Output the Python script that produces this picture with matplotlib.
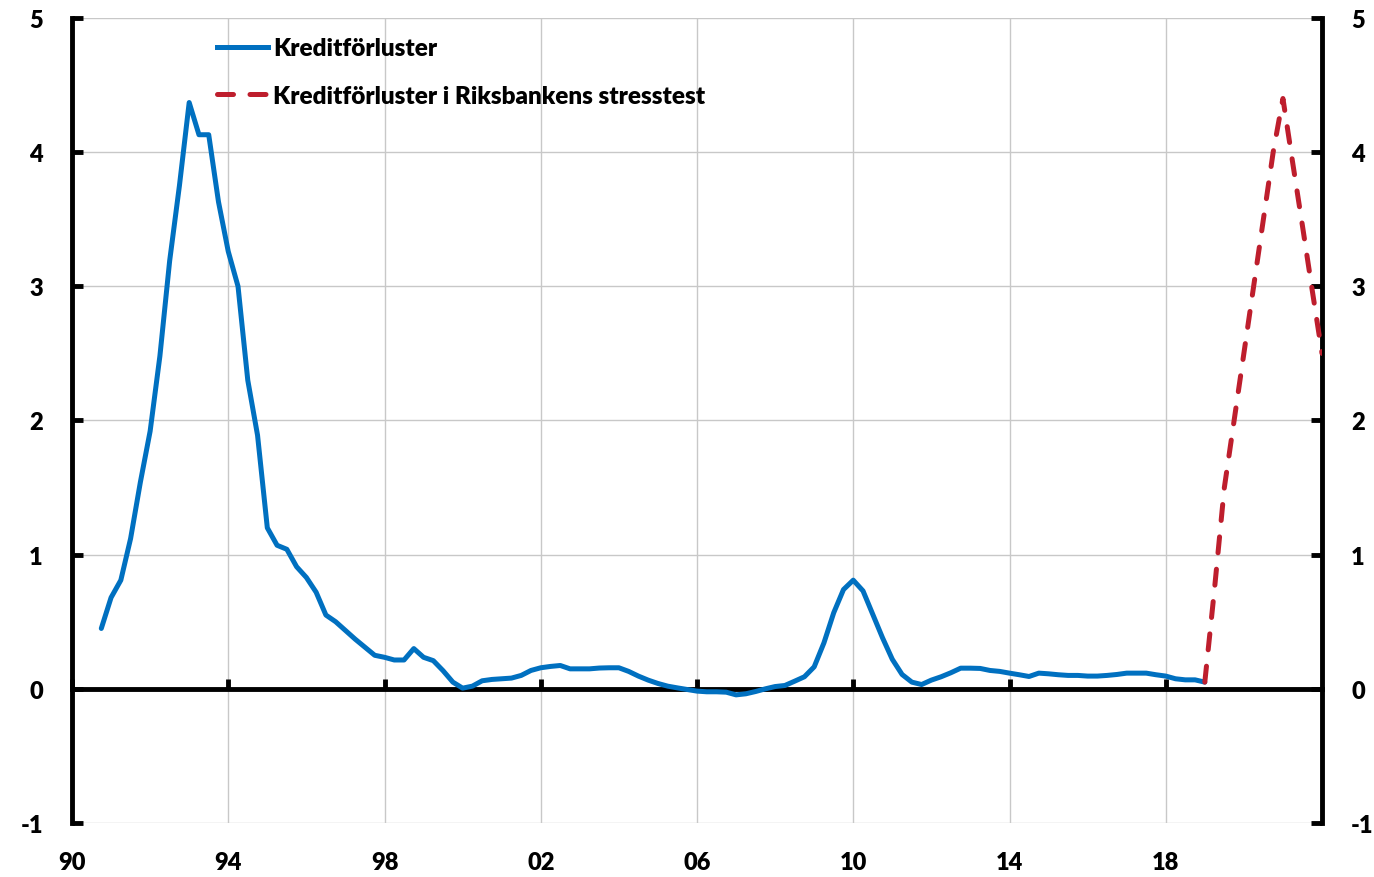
import matplotlib
matplotlib.use('Agg')
import matplotlib.pyplot as plt
from matplotlib.lines import Line2D
import pandas as pd

# ---------------- data ----------------
quarters_hist = pd.period_range('1990Q4', '2019Q1', freq='Q')
loss_hist = [
    0.45, 0.68, 0.81, 1.12, 1.54, 1.92, 2.48, 3.19, 3.75, 4.37,
    4.13, 4.13, 3.63, 3.26, 3.00, 2.30, 1.89, 1.20, 1.07, 1.04,
    0.91, 0.83, 0.72, 0.55, 0.50, 0.435, 0.37, 0.31, 0.25, 0.235,
    0.215, 0.215, 0.30, 0.235, 0.21, 0.135, 0.05, 0.005, 0.02, 0.06,
    0.07, 0.075, 0.08, 0.10, 0.137, 0.157, 0.167,
    0.174, 0.149, 0.149, 0.149, 0.155, 0.157, 0.157, 0.13, 0.095, 0.065,
    0.04, 0.02, 0.007, -0.005, -0.017, -0.022, -0.022, -0.025, -0.045, -0.037,
    -0.02, 0.0, 0.017, 0.025, 0.057, 0.09, 0.164, 0.343, 0.567, 0.74,
    0.81, 0.73, 0.555, 0.38, 0.22, 0.107, 0.05, 0.032, 0.065, 0.09,
    0.12, 0.154,
    0.154, 0.152, 0.137, 0.13, 0.117, 0.105, 0.092, 0.117, 0.112, 0.105,
    0.10, 0.10, 0.095, 0.095, 0.10, 0.107, 0.117, 0.117, 0.117, 0.105,
    0.095, 0.075, 0.067, 0.067, 0.05,
]
quarters_stress = pd.period_range('2019Q1', '2022Q1', freq='Q')
loss_stress = [0.05, 0.75, 1.5, 2.0, 2.5, 3.0, 3.5, 4.0, 4.4, 3.92, 3.45, 2.97, 2.5]

label_hist = 'Kreditförluster'
label_stress = 'Kreditförluster i Riksbankens stresstest'

tick_years = [1990, 1994, 1998, 2002, 2006, 2010, 2014, 2018]
tick_labels = ['90', '94', '98', '02', '06', '10', '14', '18']
y_ticks = [-1, 0, 1, 2, 3, 4, 5]


def to_year(periods):
    return [p.year + (p.quarter - 1) / 4 for p in periods]


x_hist = to_year(quarters_hist)
x_stress = to_year(quarters_stress)

# ---------------- style ----------------
FONT = 'Lato'
WEIGHT = 'heavy'
BLUE = '#0070C0'
RED = '#BE1E2D'
LW = 3.6

fig = plt.figure(figsize=(13.74, 8.78), dpi=100)
ax = fig.add_axes([72 / 1374, 1 - 824 / 878, 1250 / 1374, 805 / 878])

ax.set_xlim(1990, 2022)
ax.set_ylim(-1, 5)

ax.plot(x_hist, loss_hist, color=BLUE, lw=LW, zorder=3,
        solid_joinstyle='round', solid_capstyle='round')
ax.plot(x_stress, loss_stress, color=RED, lw=LW, zorder=3,
        dashes=(3.2, 3.3), dash_capstyle='round')

ax.set_xticks(tick_years)
ax.set_yticks(y_ticks)
ax.grid(True, color='#c8c8c8', lw=1.0)
ax.set_axisbelow(True)

for s in ['left', 'right']:
    ax.spines[s].set_linewidth(3.5)
    ax.spines[s].set_color('black')
ax.spines['top'].set_visible(False)
ax.spines['bottom'].set_position(('data', 0))
ax.spines['bottom'].set_linewidth(3.5)
ax.spines['bottom'].set_color('black')

ax.tick_params(axis='x', direction='in', length=7, width=3.5, labelbottom=False,
               color='black')
ax.tick_params(axis='y', direction='in', length=8, width=3.5, left=True, right=True,
               labelleft=True, labelright=True, pad=21)
ax.set_yticklabels([str(v) for v in y_ticks], fontfamily=FONT, fontweight=WEIGHT,
                   fontsize=17)

sec = ax.secondary_xaxis('bottom')
sec.set_xticks(tick_years)
sec.set_xticklabels(tick_labels, fontfamily=FONT, fontweight=WEIGHT, fontsize=17)
sec.tick_params(length=0, pad=20)
sec.spines['bottom'].set_visible(False)

handles = [
    Line2D([], [], color=BLUE, lw=LW),
    Line2D([], [], color=RED, lw=LW, dashes=(3.2, 3.3), dash_capstyle='round'),
]
ax.legend(handles, [label_hist, label_stress], loc='upper left',
          bbox_to_anchor=(0.116, 0.976), frameon=False, handlelength=2.1,
          handletextpad=0.2, labelspacing=1.05, borderaxespad=0, borderpad=0,
          prop={'family': FONT, 'weight': WEIGHT, 'size': 17.5})

fig.savefig('out.png', dpi=100)
